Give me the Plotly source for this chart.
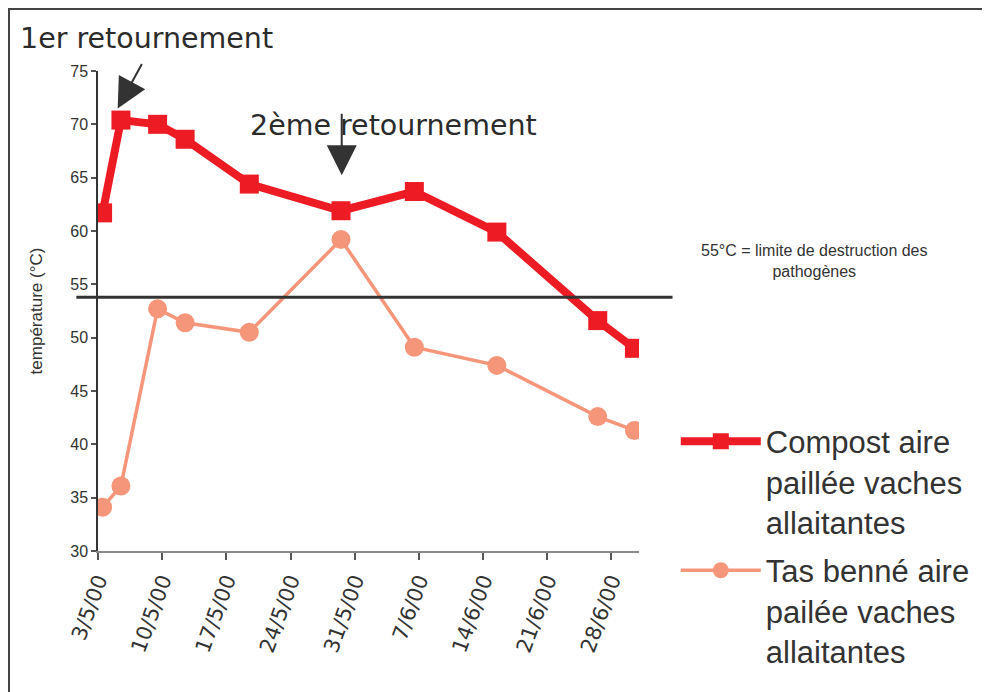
import plotly.graph_objects as go

# ---- data ----
dates_compost = ["2000-05-03", "2000-05-05", "2000-05-09", "2000-05-12", "2000-05-19",
                 "2000-05-29", "2000-06-06", "2000-06-15", "2000-06-26", "2000-06-30"]
temp_compost = [61.7, 70.4, 70.0, 68.6, 64.4, 61.9, 63.7, 59.9, 51.6, 49.0]

dates_tas = ["2000-05-03", "2000-05-05", "2000-05-09", "2000-05-12", "2000-05-19",
             "2000-05-29", "2000-06-06", "2000-06-15", "2000-06-26", "2000-06-30"]
temp_tas = [34.1, 36.1, 52.7, 51.4, 50.5, 59.2, 49.1, 47.4, 42.6, 41.3]

name_compost = "Compost aire<br>paillée vaches<br>allaitantes"
name_tas = "Tas benné aire<br>pailée vaches<br>allaitantes"

seuil = 53.8  # drawn threshold line
seuil_text = "55°C = limite de destruction des<br>pathogènes"

x_start = "2000-05-03"
x_end = "2000-07-01"
y_range = [30, 75]

RED = "#ED1C24"
ORANGE = "#F5967A"
TXT = "#333333"
DAY_MS = 86400000

fig = go.Figure()
fig.add_trace(go.Scatter(
    x=dates_compost, y=temp_compost, name=name_compost, mode="lines+markers",
    legendgroup="compost",
    xperiod=DAY_MS, xperiodalignment="middle",
    line=dict(color=RED, width=8),
    marker=dict(symbol="square", size=19, color=RED, line=dict(width=0)),
))
fig.add_trace(go.Scatter(
    x=dates_tas, y=temp_tas, name=name_tas, mode="lines+markers",
    legendgroup="tas",
    xperiod=DAY_MS, xperiodalignment="middle",
    line=dict(color=ORANGE, width=3.5),
    marker=dict(symbol="circle", size=19, color=ORANGE, line=dict(width=0)),
))

# threshold line
fig.add_shape(type="line", xref="paper", yref="y", x0=-0.04, x1=1.062, y0=seuil, y1=seuil,
              line=dict(color="#333333", width=3))
# outer frame
fig.add_shape(type="rect", xref="paper", yref="paper", x0=-0.1645, x1=2.0, y0=-0.5, y1=1.129,
              line=dict(color="#444444", width=2))

comic = dict(family="DejaVu Sans", size=28.5, color="#2b2b2b")
fig.add_annotation(xref="paper", yref="paper", x=-0.1484, y=1.068, xanchor="left", yanchor="middle",
                   text="1er retournement", showarrow=False, font=comic)
fig.add_annotation(xref="paper", yref="paper", x=0.2767, y=0.887, xanchor="left", yanchor="middle",
                   text="2ème retournement", showarrow=False, font=comic)
# arrows
fig.add_annotation(xref="paper", yref="paper", x=0.0364, y=0.922, ax=25, ay=-46, text="",
                   showarrow=True, arrowhead=2, arrowsize=3, arrowwidth=2, arrowcolor="#333333")
fig.add_annotation(xref="paper", yref="paper", x=0.4505, y=0.7827, ax=0, ay=-63, text="",
                   showarrow=True, arrowhead=2, arrowsize=3, arrowwidth=2, arrowcolor="#333333")
# threshold note
fig.add_annotation(xref="paper", yref="paper", x=1.325, y=0.604, xanchor="center", yanchor="middle",
                   text=seuil_text, showarrow=False,
                   font=dict(family="Liberation Sans, Arial", size=16, color=TXT))

fig.update_layout(
    width=990, height=692, autosize=False,
    margin=dict(l=90, r=359, t=63, b=149),
    paper_bgcolor="white", plot_bgcolor="white",
    font=dict(family="Liberation Sans, Arial", color=TXT),
    legend=dict(x=1.068, y=0.284, xanchor="left", yanchor="top", valign="top",
                itemwidth=80, tracegroupgap=5,
                font=dict(family="Liberation Sans, Arial", size=31, color=TXT),
                bgcolor="rgba(0,0,0,0)"),
    xaxis=dict(type="date", range=[x_start, x_end], tick0=x_start, dtick=7 * DAY_MS,
               tickformat="%-d/%-m/%y", tickangle=-70,
               tickfont=dict(family="DejaVu Sans", size=21, color=TXT),
               showline=True, linecolor="#8c8c8c", linewidth=2,
               ticks="outside", ticklen=7, tickcolor="#555555", tickwidth=1.5,
               showgrid=False, zeroline=False),
    yaxis=dict(range=y_range, dtick=5, showline=True, linecolor="#333333", linewidth=1.5,
               ticks="outside", ticklen=5, tickcolor="#555555", tickwidth=1.5,
               tickfont=dict(size=16, color=TXT),
               title=dict(text="température (°C)", font=dict(size=17, color=TXT), standoff=23),
               showgrid=False, zeroline=False),
)

fig.write_html("out.html")
